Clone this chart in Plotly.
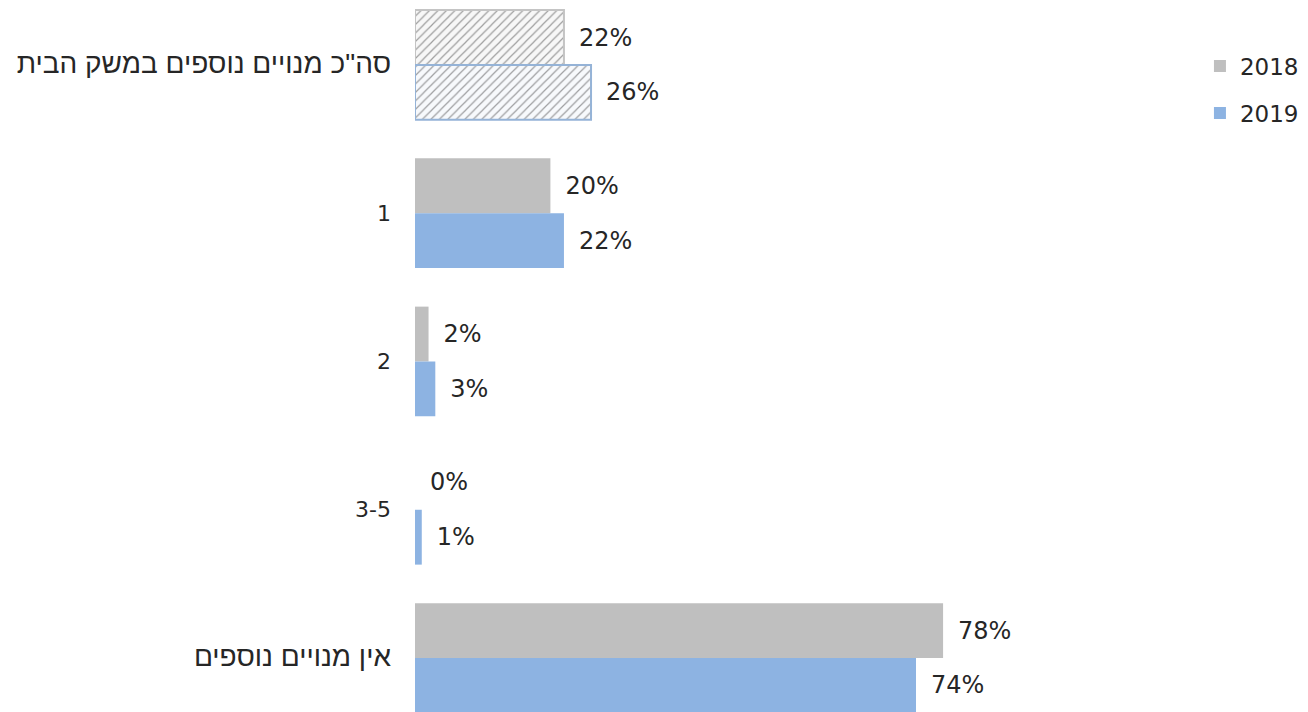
import plotly.graph_objects as go

categories = ['סה"כ מנויים נוספים במשק הבית', "1", "2", "3-5", "אין מנויים נוספים"]
series_names = ["2018", "2019"]
values_2018 = [22, 20, 2, 0, 78]
values_2019 = [26, 22, 3, 1, 74]

GREY = "#bfbfbf"
BLUE = "#8db3e2"

def is_hebrew(s):
    return any("\u0590" <= ch <= "\u05ff" for ch in s)

tick_text = [
    (f'<span style="font-family:Liberation Sans;font-size:28px">{c}</span>' if is_hebrew(c) else c)
    for c in categories
]

def bar_trace(name, vals, color, hatch_fg, hatch_bg, line_color):
    n = len(vals)
    return go.Bar(
        name=name,
        y=categories,
        x=vals,
        orientation="h",
        showlegend=False,
        marker=dict(
            color=[hatch_bg] + [color] * (n - 1),
            line=dict(color=[line_color] + [color] * (n - 1), width=[2] + [0] * (n - 1)),
            pattern=dict(
                shape=["/"] + [""] * (n - 1),
                fgcolor=[hatch_fg] + [color] * (n - 1),
                fillmode="overlay",
                size=6,
                solidity=0.2,
            ),
        ),
        text=["\u2002" + f"{v}%" for v in vals],
        textposition="outside",
        textfont=dict(family="DejaVu Sans", size=24, color="#262626"),
        cliponaxis=False,
    )

fig = go.Figure()
fig.add_trace(bar_trace(series_names[0], values_2018, GREY, "#d6d6d6", "#f7f7f7", "#c4c4c4"))
fig.add_trace(bar_trace(series_names[1], values_2019, BLUE, "#c3d2e4", "#f7f9fc", "#95b3d7"))

for name, color, grp in [(series_names[0], GREY, "a"), (series_names[1], BLUE, "b")]:
    fig.add_trace(go.Scatter(
        x=[None], y=[None], mode="markers", name=name, legendgroup=grp,
        marker=dict(symbol="square", size=15, color=color),
    ))

fig.update_layout(
    width=1300, height=704,
    margin=dict(l=407, r=0, t=0, b=0),
    paper_bgcolor="white", plot_bgcolor="white",
    barmode="group", bargap=0.26, bargroupgap=0,
    xaxis=dict(range=[0, 131.9], visible=False, showgrid=False, zeroline=False),
    yaxis=dict(
        type="category",
        categoryorder="array", categoryarray=categories,
        tickvals=categories, ticktext=tick_text,
        range=[4.364, -0.384],
        showgrid=False, zeroline=False, showline=False, automargin=False,
        ticks="", ticklabelstandoff=23,
        tickfont=dict(family="DejaVu Sans", size=22, color="#262626"),
    ),
    legend=dict(
        x=0.879, y=0.948, xanchor="left", yanchor="top",
        font=dict(family="DejaVu Sans", size=23, color="#262626"),
        tracegroupgap=14, itemsizing="constant",
        bgcolor="rgba(0,0,0,0)",
    ),
    showlegend=True,
)

fig.write_html("out.html")
